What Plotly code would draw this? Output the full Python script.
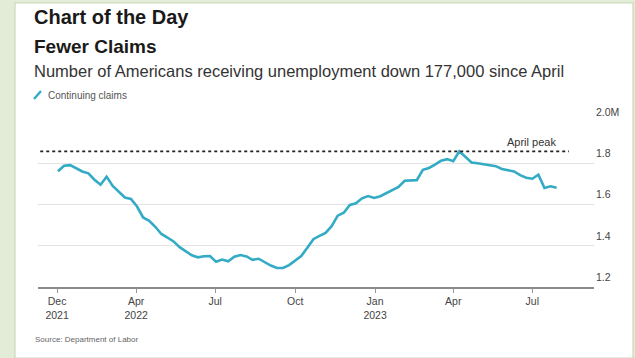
import pandas as pd
import plotly.graph_objects as go

# Weekly continuing jobless claims, millions
week_start = "2022-01-01"
claims = [
    1.761, 1.788, 1.791, 1.776, 1.760, 1.751, 1.720, 1.696, 1.735, 1.690,
    1.662, 1.634, 1.627, 1.590, 1.537, 1.521, 1.492, 1.457, 1.440, 1.421,
    1.393, 1.372, 1.354, 1.344, 1.349, 1.350, 1.322, 1.333, 1.325, 1.347,
    1.355, 1.348, 1.332, 1.337, 1.320, 1.304, 1.292, 1.292, 1.306, 1.328,
    1.350, 1.390, 1.432, 1.448, 1.462, 1.495, 1.546, 1.560, 1.598, 1.606,
    1.630, 1.641, 1.632, 1.640, 1.655, 1.667, 1.685, 1.715, 1.716, 1.718,
    1.768, 1.777, 1.793, 1.812, 1.820, 1.810, 1.858, 1.830, 1.804, 1.800,
    1.796, 1.790, 1.786, 1.772, 1.766, 1.760, 1.742, 1.730, 1.725, 1.745,
    1.680, 1.688, 1.681,
]
weeks = pd.date_range(week_start, periods=len(claims), freq="7D")

x_tick_dates = ["2021-12-31", "2022-04-01", "2022-07-01", "2022-10-01",
                "2023-01-01", "2023-04-01", "2023-07-01"]
x_tick_labels = ["Dec<br>2021", "Apr<br>2022", "Jul", "Oct",
                 "Jan<br>2023", "Apr", "Jul"]
y_tick_values = [1.2, 1.4, 1.6, 1.8, 2.0]
y_tick_labels = ["1.2", "1.4", "1.6", "1.8", "2.0M"]

peak = max(claims)

W, H = 635, 358
def px(x):
    return x / W
def py(y):
    return 1 - y / H

LINE = "#33abc5"
BG = "#e2ecd6"
FONT = "Liberation Sans, Arial, sans-serif"

fig = go.Figure()
fig.add_trace(go.Scatter(
    x=weeks, y=claims, mode="lines", name="Continuing claims",
    line=dict(color=LINE, width=2.6), showlegend=False,
    hoverinfo="skip",
))

# value labels sit just above each gridline, right of the plot
y_label_notes = [
    dict(text=label, x=1.0, y=val, xref="x domain", yref="y",
         xanchor="left", yanchor="bottom", xshift=0, yshift=2,
         showarrow=False, font=dict(size=10.5, color="#444"))
    for val, label in zip(y_tick_values, y_tick_labels)
]

fig.update_layout(
    width=W, height=H, autosize=False,
    margin=dict(l=0, r=0, t=0, b=0),
    paper_bgcolor=BG, plot_bgcolor="rgba(0,0,0,0)",
    font=dict(family=FONT, color="#333"),
    xaxis=dict(
        domain=[px(38), px(594)],
        range=["2021-12-09", "2023-09-10"],
        type="date",
        tickmode="array", tickvals=x_tick_dates, ticktext=x_tick_labels,
        ticks="outside", ticklen=4, tickwidth=1, tickcolor="#999",
        showgrid=False, zeroline=False,
        showline=True, linecolor="#8a8a8a", linewidth=1.6,
        tickfont=dict(size=10.5, color="#444"),
    ),
    yaxis=dict(
        domain=[py(287), py(122)],
        range=[1.2, 2.0],
        side="right",
        tickmode="array", tickvals=y_tick_values,
        showticklabels=False,
        ticks="", showgrid=True, gridcolor="#e3e3e3", gridwidth=1,
        zeroline=False, showline=False,
    ),
    shapes=[
        # white card
        dict(type="rect", xref="paper", yref="paper",
             x0=px(15), x1=px(633), y0=py(358), y1=py(3),
             fillcolor="white", line=dict(color="#c9d9b8", width=1.2),
             layer="below"),
        # April peak reference
        dict(type="line", xref="x domain", yref="y",
             x0=0.004, x1=0.955, y0=peak, y1=peak,
             line=dict(color="#222", width=1.7, dash="dot")),
        # legend swatch
        dict(type="line", xref="paper", yref="paper",
             x0=px(34), y0=py(99), x1=px(41), y1=py(91),
             line=dict(color=LINE, width=2.4)),
    ],
    annotations=[
        dict(text="<b>Chart of the Day</b>", x=px(32), y=py(17),
             xref="paper", yref="paper", xanchor="left", yanchor="middle",
             showarrow=False, font=dict(size=20, color="#1a1a1a")),
        dict(text="<b>Fewer Claims</b>", x=px(32), y=py(46),
             xref="paper", yref="paper", xanchor="left", yanchor="middle",
             showarrow=False, font=dict(size=19, color="#1a1a1a")),
        dict(text="Number of Americans receiving unemployment down 177,000 since April",
             x=px(32), y=py(71), xref="paper", yref="paper",
             xanchor="left", yanchor="middle", showarrow=False,
             font=dict(size=16.5, color="#333")),
        dict(text="Continuing claims", x=px(46), y=py(95),
             xref="paper", yref="paper", xanchor="left", yanchor="middle",
             showarrow=False, font=dict(size=10, color="#555")),
        dict(text="April peak", x=0.935, y=peak, xref="x domain", yref="y",
             xanchor="right", yanchor="bottom", yshift=1, showarrow=False,
             font=dict(size=11, color="#333")),
        dict(text="Source: Department of Labor", x=px(33), y=py(339),
             xref="paper", yref="paper", xanchor="left", yanchor="middle",
             showarrow=False, font=dict(size=8, color="#666")),
    ] + y_label_notes,
)

fig.write_html("out.html")
